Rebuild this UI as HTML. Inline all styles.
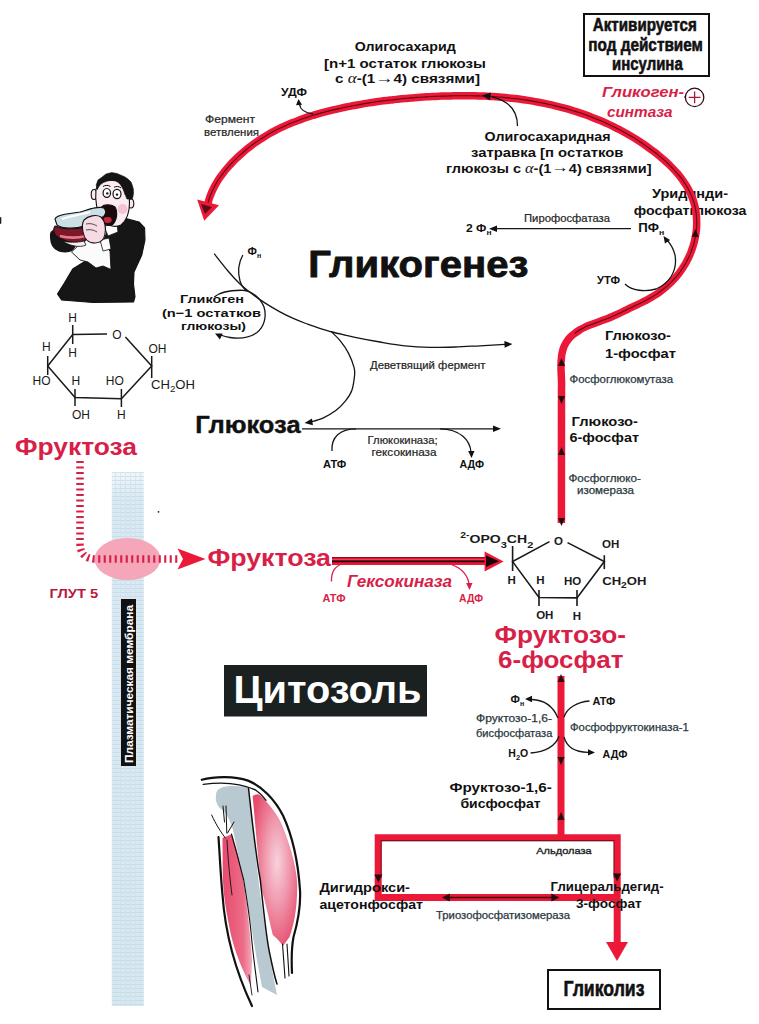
<!DOCTYPE html>
<html><head><meta charset="utf-8"><title>Гликогенез</title>
<style>
html,body{margin:0;padding:0;background:#fff;}
body{width:759px;height:1024px;overflow:hidden;}
svg{display:block;font-family:"Liberation Sans",sans-serif;}
</style></head>
<body>
<svg width="759" height="1024" viewBox="0 0 759 1024">
<defs>
<pattern id="mesh" width="5" height="4" patternUnits="userSpaceOnUse">
<rect width="5" height="1" fill="#bcd4e3"/><rect width="1" height="4" fill="#c9dde9"/>
</pattern>
<linearGradient id="memg" x1="0" y1="472" x2="0" y2="1006" gradientUnits="userSpaceOnUse">
<stop offset="0" stop-color="#f0f7fa"/><stop offset="0.05" stop-color="#dbeaf2"/><stop offset="1" stop-color="#d8e8f1"/>
</linearGradient>
<radialGradient id="mus" cx="0.55" cy="0.45" r="0.6">
<stop offset="0" stop-color="#f8d2dc"/><stop offset="0.45" stop-color="#f09aae"/><stop offset="1" stop-color="#e64d6d"/>
</radialGradient>
<linearGradient id="mus2" x1="0" y1="0" x2="1" y2="0">
<stop offset="0" stop-color="#e84a6c"/><stop offset="0.7" stop-color="#ec6d88"/><stop offset="1" stop-color="#f3a9ba"/>
</linearGradient>
</defs>
<rect width="759" height="1024" fill="#fff"/>
<rect x="111.8" y="472" width="32" height="534" fill="url(#memg)"/>
<rect x="111.8" y="472" width="32" height="534" fill="url(#mesh)" opacity="0.6"/>
<rect x="121" y="599" width="15" height="167" fill="#111"/>
<text transform="translate(132.5,763) rotate(-90)" font-size="10.5" font-weight="bold" fill="#fff" textLength="158" lengthAdjust="spacingAndGlyphs">Плазматическая мембрана</text>
<ellipse cx="127.5" cy="559" rx="33" ry="21" fill="#f5a6b9"/>
<path d="M80,461 L80,543 Q80,559 96,559 L180,559" fill="none" stroke="#d81f48" stroke-width="7.5" stroke-dasharray="2.1 3.4"/>
<polygon points="205.5,559 177.5,548.5 183,559 177.5,569.5" fill="#ec1838"/>
<text x="652" y="197.5" font-size="12.5" font-weight="bold" fill="#111" textLength="76" lengthAdjust="spacingAndGlyphs">Уридинди-</text>
<text x="633.7" y="214.5" font-size="12.5" font-weight="bold" fill="#111" textLength="112.7" lengthAdjust="spacingAndGlyphs">фосфатглюкоза</text>
<path d="M207.8,204.0 C208.1,203.0 208.8,200.1 209.4,198.2 C210.0,196.3 210.8,194.4 211.6,192.5 C212.4,190.6 213.3,188.8 214.2,187.0 C215.1,185.2 216.1,183.4 217.2,181.7 C218.3,180.0 219.4,178.2 220.6,176.6 C221.8,174.9 222.9,173.4 224.2,171.8 C225.4,170.2 226.8,168.6 228.1,167.1 C229.4,165.6 230.8,164.1 232.2,162.6 C233.6,161.1 235.0,159.7 236.5,158.3 C238.0,156.9 239.5,155.5 241.0,154.2 C242.5,152.8 244.0,151.5 245.6,150.2 C247.2,148.9 248.7,147.6 250.3,146.4 C251.9,145.2 253.5,144.0 255.2,142.8 C256.8,141.6 258.5,140.5 260.2,139.4 C261.9,138.3 263.7,137.2 265.4,136.1 C267.1,135.0 268.8,134.0 270.6,133.0 C272.4,132.0 274.2,131.0 276.0,130.1 C277.8,129.2 279.6,128.3 281.4,127.4 C283.2,126.5 285.1,125.7 287.0,124.9 C288.9,124.1 290.7,123.3 292.6,122.6 C294.5,121.8 296.3,121.1 298.2,120.4 C300.1,119.7 302.1,119.0 304.0,118.3 C305.9,117.6 307.8,117.0 309.7,116.4 C311.6,115.8 313.7,115.2 315.6,114.6 C317.6,114.0 319.4,113.4 321.4,112.9 C323.3,112.4 325.3,111.9 327.3,111.4 C329.3,110.9 331.2,110.4 333.2,109.9 C335.2,109.4 337.1,109.0 339.1,108.6 C341.1,108.2 343.1,107.7 345.1,107.3 C347.1,106.9 349.0,106.5 351.0,106.1 C353.0,105.7 355.0,105.4 357.0,105.0 C359.0,104.6 361.0,104.2 363.0,103.9 C365.0,103.6 367.0,103.2 369.0,102.9 C371.0,102.6 373.0,102.3 375.0,102.0 C377.0,101.7 379.0,101.4 381.0,101.1 C383.0,100.8 385.1,100.6 387.1,100.4 C389.1,100.2 391.1,99.9 393.1,99.7 C395.1,99.5 397.2,99.2 399.2,99.0 C401.2,98.8 403.2,98.6 405.2,98.4 C407.2,98.2 409.3,98.1 411.3,97.9 C413.3,97.7 415.4,97.6 417.4,97.4 C419.4,97.2 421.4,97.1 423.4,97.0 C425.4,96.9 427.5,96.8 429.5,96.7 C431.5,96.6 433.6,96.5 435.6,96.4 C437.6,96.3 439.7,96.2 441.7,96.1 C443.7,96.0 445.7,96.0 447.7,96.0 C449.7,96.0 451.8,95.8 453.8,95.8 C455.8,95.8 457.9,95.7 459.9,95.7 C461.9,95.7 464.0,95.7 466.0,95.7 C468.0,95.7 470.1,95.8 472.1,95.8 C474.1,95.8 476.1,95.9 478.1,95.9 C480.1,96.0 482.2,96.0 484.2,96.1 C486.2,96.2 488.3,96.3 490.3,96.4 C492.3,96.5 494.4,96.7 496.4,96.8 C498.4,96.9 500.4,97.1 502.4,97.3 C504.4,97.5 506.5,97.7 508.5,97.9 C510.5,98.1 512.5,98.3 514.5,98.5 C516.5,98.7 518.6,99.0 520.6,99.3 C522.6,99.6 524.6,99.8 526.6,100.1 C528.6,100.4 530.6,100.8 532.6,101.1 C534.6,101.4 536.6,101.8 538.6,102.2 C540.6,102.6 542.6,103.0 544.6,103.4 C546.6,103.8 548.5,104.2 550.5,104.7 C552.5,105.2 554.4,105.6 556.4,106.1 C558.4,106.6 560.3,107.1 562.3,107.6 C564.3,108.1 566.2,108.6 568.2,109.2 C570.2,109.8 572.1,110.4 574.0,111.0 C575.9,111.6 577.9,112.2 579.8,112.8 C581.7,113.4 583.6,114.1 585.5,114.8 C587.4,115.5 589.3,116.2 591.2,116.9 C593.1,117.6 595.0,118.4 596.9,119.2 C598.8,120.0 600.6,120.7 602.5,121.5 C604.4,122.3 606.3,123.1 608.1,124.0 C609.9,124.9 611.7,125.8 613.5,126.7 C615.3,127.6 617.2,128.5 619.0,129.4 C620.8,130.3 622.5,131.3 624.3,132.3 C626.1,133.3 627.9,134.3 629.6,135.3 C631.4,136.3 633.1,137.3 634.8,138.4 C636.5,139.5 638.2,140.6 639.9,141.7 C641.6,142.8 643.3,143.9 645.0,145.1 C646.7,146.3 648.3,147.5 649.9,148.7 C651.5,149.9 653.2,151.1 654.8,152.3 C656.4,153.5 657.9,154.8 659.5,156.1 C661.1,157.4 662.7,158.8 664.2,160.1 C665.7,161.4 667.2,162.8 668.6,164.2 C670.0,165.6 671.5,167.0 672.9,168.5 C674.3,170.0 675.7,171.5 677.0,173.0 C678.3,174.5 679.7,176.1 680.9,177.7 C682.1,179.3 683.3,181.0 684.4,182.7 C685.5,184.4 686.6,186.0 687.6,187.8 C688.6,189.6 689.5,191.5 690.4,193.3 C691.2,195.2 692.0,197.0 692.7,198.9 C693.4,200.8 694.0,202.8 694.5,204.7 C695.0,206.6 695.5,208.6 695.8,210.6 C696.1,212.6 696.4,214.7 696.5,216.7 C696.6,218.7 696.7,220.7 696.7,222.7 C696.7,224.7 696.7,226.8 696.5,228.8 C696.3,230.8 696.0,232.9 695.7,234.9 C695.4,236.9 695.0,238.8 694.5,240.8 C694.0,242.8 693.5,244.8 692.9,246.7 C692.3,248.6 691.6,250.5 690.9,252.4 C690.1,254.3 689.3,256.2 688.4,258.0 C687.5,259.8 686.6,261.6 685.6,263.4 C684.6,265.1 683.5,266.8 682.4,268.5 C681.3,270.2 680.1,271.9 678.9,273.5 C677.7,275.1 676.4,276.7 675.0,278.2 C673.6,279.7 672.2,281.2 670.8,282.6 C669.3,284.0 667.8,285.4 666.3,286.7 C664.8,288.0 663.2,289.3 661.6,290.5 C660.0,291.7 658.4,293.0 656.7,294.1 C655.0,295.2 653.2,296.3 651.5,297.3 C649.8,298.3 648.0,299.4 646.2,300.3 C644.4,301.2 642.6,302.1 640.8,303.0 C639.0,303.9 637.1,304.7 635.3,305.6 C633.5,306.5 631.6,307.3 629.8,308.2 C628.0,309.1 626.1,310.0 624.3,310.9 C622.5,311.8 620.6,312.7 618.8,313.6 C617.0,314.5 615.1,315.3 613.3,316.1 C611.4,316.9 609.6,317.8 607.7,318.5 C605.8,319.2 603.9,319.9 602.0,320.6 C600.1,321.3 598.2,322.0 596.3,322.7 C594.4,323.4 592.5,324.1 590.6,324.8 C588.7,325.5 586.8,326.2 585.0,327.1 C583.2,328.0 581.3,328.9 579.6,330.0 C577.9,331.1 576.2,332.2 574.6,333.4 C573.0,334.6 571.4,335.9 570.0,337.4 C568.6,338.9 567.4,340.5 566.3,342.2 C565.2,343.9 564.3,345.7 563.6,347.6 C562.9,349.5 562.4,351.5 562.0,353.5 C561.6,355.5 561.5,357.5 561.3,359.5 C561.1,361.5 561.0,363.6 561.0,365.6 C561.0,367.6 561.0,369.7 561.1,371.7 C561.2,373.7 561.3,375.8 561.4,377.8 C561.5,379.8 561.6,381.9 561.6,383.9 C561.6,385.9 561.5,388.9 561.5,389.9 L561.4,523" fill="none" stroke="#ec1838" stroke-width="7.5"/>
<path d="M207.8,204.0 C208.1,203.0 208.8,200.1 209.4,198.2 C210.0,196.3 210.8,194.4 211.6,192.5 C212.4,190.6 213.3,188.8 214.2,187.0 C215.1,185.2 216.1,183.4 217.2,181.7 C218.3,180.0 219.4,178.2 220.6,176.6 C221.8,174.9 222.9,173.4 224.2,171.8 C225.4,170.2 226.8,168.6 228.1,167.1 C229.4,165.6 230.8,164.1 232.2,162.6 C233.6,161.1 235.0,159.7 236.5,158.3 C238.0,156.9 239.5,155.5 241.0,154.2 C242.5,152.8 244.0,151.5 245.6,150.2 C247.2,148.9 248.7,147.6 250.3,146.4 C251.9,145.2 253.5,144.0 255.2,142.8 C256.8,141.6 258.5,140.5 260.2,139.4 C261.9,138.3 263.7,137.2 265.4,136.1 C267.1,135.0 268.8,134.0 270.6,133.0 C272.4,132.0 274.2,131.0 276.0,130.1 C277.8,129.2 279.6,128.3 281.4,127.4 C283.2,126.5 285.1,125.7 287.0,124.9 C288.9,124.1 290.7,123.3 292.6,122.6 C294.5,121.8 296.3,121.1 298.2,120.4 C300.1,119.7 302.1,119.0 304.0,118.3 C305.9,117.6 307.8,117.0 309.7,116.4 C311.6,115.8 313.7,115.2 315.6,114.6 C317.6,114.0 319.4,113.4 321.4,112.9 C323.3,112.4 325.3,111.9 327.3,111.4 C329.3,110.9 331.2,110.4 333.2,109.9 C335.2,109.4 337.1,109.0 339.1,108.6 C341.1,108.2 343.1,107.7 345.1,107.3 C347.1,106.9 349.0,106.5 351.0,106.1 C353.0,105.7 355.0,105.4 357.0,105.0 C359.0,104.6 361.0,104.2 363.0,103.9 C365.0,103.6 367.0,103.2 369.0,102.9 C371.0,102.6 373.0,102.3 375.0,102.0 C377.0,101.7 379.0,101.4 381.0,101.1 C383.0,100.8 385.1,100.6 387.1,100.4 C389.1,100.2 391.1,99.9 393.1,99.7 C395.1,99.5 397.2,99.2 399.2,99.0 C401.2,98.8 403.2,98.6 405.2,98.4 C407.2,98.2 409.3,98.1 411.3,97.9 C413.3,97.7 415.4,97.6 417.4,97.4 C419.4,97.2 421.4,97.1 423.4,97.0 C425.4,96.9 427.5,96.8 429.5,96.7 C431.5,96.6 433.6,96.5 435.6,96.4 C437.6,96.3 439.7,96.2 441.7,96.1 C443.7,96.0 445.7,96.0 447.7,96.0 C449.7,96.0 451.8,95.8 453.8,95.8 C455.8,95.8 457.9,95.7 459.9,95.7 C461.9,95.7 464.0,95.7 466.0,95.7 C468.0,95.7 470.1,95.8 472.1,95.8 C474.1,95.8 476.1,95.9 478.1,95.9 C480.1,96.0 482.2,96.0 484.2,96.1 C486.2,96.2 488.3,96.3 490.3,96.4 C492.3,96.5 494.4,96.7 496.4,96.8 C498.4,96.9 500.4,97.1 502.4,97.3 C504.4,97.5 506.5,97.7 508.5,97.9 C510.5,98.1 512.5,98.3 514.5,98.5 C516.5,98.7 518.6,99.0 520.6,99.3 C522.6,99.6 524.6,99.8 526.6,100.1 C528.6,100.4 530.6,100.8 532.6,101.1 C534.6,101.4 536.6,101.8 538.6,102.2 C540.6,102.6 542.6,103.0 544.6,103.4 C546.6,103.8 548.5,104.2 550.5,104.7 C552.5,105.2 554.4,105.6 556.4,106.1 C558.4,106.6 560.3,107.1 562.3,107.6 C564.3,108.1 566.2,108.6 568.2,109.2 C570.2,109.8 572.1,110.4 574.0,111.0 C575.9,111.6 577.9,112.2 579.8,112.8 C581.7,113.4 583.6,114.1 585.5,114.8 C587.4,115.5 589.3,116.2 591.2,116.9 C593.1,117.6 595.0,118.4 596.9,119.2 C598.8,120.0 600.6,120.7 602.5,121.5 C604.4,122.3 606.3,123.1 608.1,124.0 C609.9,124.9 611.7,125.8 613.5,126.7 C615.3,127.6 617.2,128.5 619.0,129.4 C620.8,130.3 622.5,131.3 624.3,132.3 C626.1,133.3 627.9,134.3 629.6,135.3 C631.4,136.3 633.1,137.3 634.8,138.4 C636.5,139.5 638.2,140.6 639.9,141.7 C641.6,142.8 643.3,143.9 645.0,145.1 C646.7,146.3 648.3,147.5 649.9,148.7 C651.5,149.9 653.2,151.1 654.8,152.3 C656.4,153.5 657.9,154.8 659.5,156.1 C661.1,157.4 662.7,158.8 664.2,160.1 C665.7,161.4 667.2,162.8 668.6,164.2 C670.0,165.6 671.5,167.0 672.9,168.5 C674.3,170.0 675.7,171.5 677.0,173.0 C678.3,174.5 679.7,176.1 680.9,177.7 C682.1,179.3 683.3,181.0 684.4,182.7 C685.5,184.4 686.6,186.0 687.6,187.8 C688.6,189.6 689.5,191.5 690.4,193.3 C691.2,195.2 692.0,197.0 692.7,198.9 C693.4,200.8 694.0,202.8 694.5,204.7 C695.0,206.6 695.5,208.6 695.8,210.6 C696.1,212.6 696.4,214.7 696.5,216.7 C696.6,218.7 696.7,220.7 696.7,222.7 C696.7,224.7 696.7,226.8 696.5,228.8 C696.3,230.8 696.0,232.9 695.7,234.9 C695.4,236.9 695.0,238.8 694.5,240.8 C694.0,242.8 693.5,244.8 692.9,246.7 C692.3,248.6 691.6,250.5 690.9,252.4 C690.1,254.3 689.3,256.2 688.4,258.0 C687.5,259.8 686.6,261.6 685.6,263.4 C684.6,265.1 683.5,266.8 682.4,268.5 C681.3,270.2 680.1,271.9 678.9,273.5 C677.7,275.1 676.4,276.7 675.0,278.2 C673.6,279.7 672.2,281.2 670.8,282.6 C669.3,284.0 667.8,285.4 666.3,286.7 C664.8,288.0 663.2,289.3 661.6,290.5 C660.0,291.7 658.4,293.0 656.7,294.1 C655.0,295.2 653.2,296.3 651.5,297.3 C649.8,298.3 648.0,299.4 646.2,300.3 C644.4,301.2 642.6,302.1 640.8,303.0 C639.0,303.9 637.1,304.7 635.3,305.6 C633.5,306.5 631.6,307.3 629.8,308.2 C628.0,309.1 626.1,310.0 624.3,310.9 C622.5,311.8 620.6,312.7 618.8,313.6 C617.0,314.5 615.1,315.3 613.3,316.1 C611.4,316.9 609.6,317.8 607.7,318.5 C605.8,319.2 603.9,319.9 602.0,320.6 C600.1,321.3 598.2,322.0 596.3,322.7 C594.4,323.4 592.5,324.1 590.6,324.8 C588.7,325.5 586.8,326.2 585.0,327.1 C583.2,328.0 581.3,328.9 579.6,330.0 C577.9,331.1 575.4,332.8 574.6,333.4" fill="none" stroke="#3a0810" stroke-width="1.1" opacity="0.8"/>
<polygon points="204.2,220.8 197.2,199.6 219,205.2" fill="#ec1838"/>
<polygon points="205,214 201,204 212,207" fill="#5a0d18"/>
<polygon points="695.5,229.0 698.7,237.1 691.7,236.9" fill="#2a0a10"/>
<polygon points="561.5,358.0 565.0,366.0 558.0,366.0" fill="#2a0a10"/>
<polygon points="561.5,404.0 558.0,396.0 565.0,396.0" fill="#2a0a10"/>
<polygon points="561.5,447.0 565.0,455.0 558.0,455.0" fill="#2a0a10"/>
<polygon points="561.5,526.0 558.0,518.0 565.0,518.0" fill="#2a0a10"/>
<path d="M561,676 L561,838 M374.7,837.75 L620.6,837.75 M378.2,834.5 L378.2,900.6 M374.7,897.5 L617,897.5 M617.2,834.5 L617.2,944" fill="none" stroke="#ec1838" stroke-width="7"/>
<path d="M381.2,878 L381.2,840.6 L613.9,840.6 L613.9,878" fill="none" stroke="#3a0810" stroke-width="1.1" opacity="0.6"/>
<path d="M445,897.5 L556,897.5" fill="none" stroke="#2a0508" stroke-width="1.4" opacity="0.9"/>
<polygon points="561.0,674.0 564.5,682.0 557.5,682.0" fill="#2a0a10"/>
<polygon points="561.0,765.0 557.5,757.0 564.5,757.0" fill="#2a0a10"/>
<polygon points="561.0,812.0 564.5,820.0 557.5,820.0" fill="#2a0a10"/>
<polygon points="378.3,882.5 374.3,874.5 382.3,874.5" fill="#2a0a10"/>
<polygon points="617.1,881.5 613.1,873.5 621.1,873.5" fill="#2a0a10"/>
<polygon points="441.9,897.5 449.9,893.5 449.9,901.5" fill="#2a0a10"/>
<polygon points="559.4,897.5 551.4,901.5 551.4,893.5" fill="#2a0a10"/>
<polygon points="617,961 606,942 628,942" fill="#ec1838"/>
<rect x="332" y="557" width="154" height="8" fill="#ec1838"/>
<line x1="332" y1="557.6" x2="486" y2="557.6" stroke="#8a0c1e" stroke-width="1"/>
<line x1="332" y1="559.4" x2="486" y2="559.4" stroke="#ff5a78" stroke-width="0.8" opacity="0.8"/>
<line x1="332" y1="561.3" x2="492" y2="561.3" stroke="#1a0508" stroke-width="1.7"/>
<polygon points="503.6,561.5 484.6,551.5 484.6,571.5" fill="#ec1838"/>
<polygon points="499,561.3 486,555.5 486,567" fill="#1a0508"/>
<path d="M214.2,253.7 C216.5,256.6 223.7,265.9 228.0,271.0 C232.3,276.1 235.8,280.0 240.0,284.0 C244.2,288.0 248.8,291.5 253.2,294.8 C257.6,298.1 262.0,301.1 266.4,303.9 C270.8,306.7 275.1,309.2 279.5,311.6 C283.9,314.0 288.3,316.2 292.7,318.2 C297.1,320.2 301.5,321.9 305.9,323.5 C310.3,325.1 314.6,326.7 319.0,328.1 C323.4,329.5 327.9,330.9 332.2,332.0 C336.4,333.1 340.7,334.1 344.5,335.0 C348.3,335.9 349.1,336.1 355.0,337.3 C360.9,338.5 371.7,340.6 380.0,342.0 C388.3,343.4 396.7,344.9 405.0,345.8 C413.3,346.7 421.7,347.2 430.0,347.4 C438.3,347.6 446.7,347.3 455.0,347.0 C463.3,346.7 471.7,346.2 480.0,345.8 C488.3,345.4 500.8,344.6 505.0,344.3" fill="none" stroke="#151515" stroke-width="1.3"/>
<polygon points="512.5,344.0 504.7,347.7 504.3,341.1" fill="#111"/>
<path d="M242.8,255 C239,262 237.5,272 240,281 C241.5,286 244,289 247,291" fill="none" stroke="#151515" stroke-width="1.3"/>
<path d="M214.3,297 C220,292 230,290 243,290.3 C253,291 261,299 264,307 C267,317 264,327 257,332.5 C250,337.5 240,339 230,337.5 C226,337 223,336 220.5,335" fill="none" stroke="#151515" stroke-width="1.3"/>
<polygon points="215.0,333.5 222.7,333.5 219.9,339.4" fill="#111"/>
<path d="M331.0,331.4 C332.5,332.9 337.2,337.0 340.1,340.7 C343.1,344.4 346.4,349.1 348.7,353.6 C351.0,358.1 353.1,364.0 354.1,367.6 C355.1,371.2 355.0,371.3 354.6,375.1 C354.2,378.9 353.4,385.9 351.9,390.2 C350.4,394.5 348.2,397.5 345.5,400.9 C342.8,404.3 339.6,407.7 335.8,410.6 C332.0,413.5 327.0,416.2 322.9,418.1 C318.8,420.0 313.0,421.3 311.0,421.9" fill="none" stroke="#151515" stroke-width="1.3"/>
<polygon points="304.5,423.0 312.0,418.6 312.9,425.2" fill="#111"/>
<line x1="302" y1="428.8" x2="493" y2="428.8" stroke="#151515" stroke-width="1.3"/>
<polygon points="501.0,428.8 493.0,432.0 493.0,425.6" fill="#111"/>
<path d="M332,451 C331,437 340,428.8 356,428.8" fill="none" stroke="#151515" stroke-width="1.3"/>
<path d="M440,428.8 C460,429 470,440 471,452" fill="none" stroke="#151515" stroke-width="1.3"/>
<polygon points="471.5,458.0 468.1,451.1 474.5,450.9" fill="#111"/>
<line x1="631" y1="228.7" x2="496" y2="228.7" stroke="#151515" stroke-width="1.3"/>
<polygon points="489.0,228.7 497.0,225.5 497.0,231.9" fill="#111"/>
<path d="M625,284 C632,291 645,292 656,289 C668,284 678,272 675,255 C673,247 670,243 666,239" fill="none" stroke="#151515" stroke-width="1.3"/>
<polygon points="663.5,236.0 670.1,239.9 664.9,243.6" fill="#111"/>
<path d="M313,114 C305,113 300,109 299.5,104" fill="none" stroke="#151515" stroke-width="1.3"/>
<polygon points="298.5,99.0 302.0,104.7 296.0,105.2" fill="#111"/>
<path d="M517.5,126 C517.5,112 510,101 492,96.8" fill="none" stroke="#151515" stroke-width="1.3"/>
<polygon points="482.0,95.5 490.9,92.6 490.1,100.2" fill="#111"/>
<path d="M331.5,581.5 C331,572 335,566 343,563.5" fill="none" stroke="#d81f48" stroke-width="1.3"/>
<path d="M452,565 C462,568 468,576 469,584" fill="none" stroke="#d81f48" stroke-width="1.3"/>
<polygon points="469.5,590.0 466.1,583.1 472.5,582.9" fill="#d81f48"/>
<path d="M558,718 C553,706 545,700 532,699.5" fill="none" stroke="#151515" stroke-width="1.3"/>
<polygon points="525.0,699.0 532.0,695.8 532.0,702.2" fill="#111"/>
<path d="M589.5,701 C577,702 567,708 564,717" fill="none" stroke="#151515" stroke-width="1.3"/>
<path d="M530.6,753 C545,752 556,746 559,736" fill="none" stroke="#151515" stroke-width="1.3"/>
<path d="M564,737 C567,748 575,752 588,752.4" fill="none" stroke="#151515" stroke-width="1.3"/>
<polygon points="595.0,752.4 588.0,755.6 588.0,749.2" fill="#111"/>
<rect x="584" y="14" width="125" height="62" fill="#fff" stroke="#111" stroke-width="2"/>
<rect x="548" y="970" width="112" height="39" fill="#fff" stroke="#111" stroke-width="2"/>
<rect x="224" y="665" width="203" height="51.5" fill="#1b2020"/>
<circle cx="694.6" cy="97.4" r="9.2" fill="none" stroke="#3a0a14" stroke-width="1.3"/>
<path d="M694.6,91.5 L694.6,103.3 M688.7,97.4 L700.5,97.4" stroke="#a8163a" stroke-width="1.3"/>
<line x1="684" y1="97" x2="686" y2="97" stroke="#3a0a14" stroke-width="1.2"/>
<path d="M107,334 L72.7,334.5 L47.7,366 L75,397.5 L121.4,398.8 L151.7,366 L125.4,337" fill="none" stroke="#1a1a1a" stroke-width="1.5"/>
<path d="M72.7,325 L72.7,344 M47.7,356 L47.7,375 M75,389 L75,406 M121.4,389 L121.4,407 M151.7,356 L151.7,378" fill="none" stroke="#1a1a1a" stroke-width="1.5"/>
<text x="72.7" y="322.4" font-size="12" fill="#1a1a1a" text-anchor="middle">H</text>
<text x="72.7" y="357.4" font-size="12" fill="#1a1a1a" text-anchor="middle">H</text>
<text x="117" y="339" font-size="12" fill="#1a1a1a" text-anchor="middle">O</text>
<text x="46.3" y="351.4" font-size="12" fill="#1a1a1a" text-anchor="middle">H</text>
<text x="41.5" y="384.8" font-size="12" fill="#1a1a1a" text-anchor="middle">HO</text>
<text x="75.9" y="384.8" font-size="12" fill="#1a1a1a" text-anchor="middle">H</text>
<text x="114.8" y="384.8" font-size="12" fill="#1a1a1a" text-anchor="middle">HO</text>
<text x="157.4" y="352.7" font-size="12" fill="#1a1a1a" text-anchor="middle">OH</text>
<text x="81" y="418.6" font-size="12" fill="#1a1a1a" text-anchor="middle">OH</text>
<text x="121.4" y="418.6" font-size="12" fill="#1a1a1a" text-anchor="middle">H</text>
<text x="151" y="388.8" font-size="12" fill="#1a1a1a" textLength="44" lengthAdjust="spacingAndGlyphs">CH<tspan font-size="9" dy="3.5">2</tspan><tspan dy="-3.5">OH</tspan></text>
<path d="M549.5,541.6 L512.6,561.6 L539,597.5 L577,597.9 L604.3,561.6 L567.5,542.6" fill="none" stroke="#1a1a1a" stroke-width="1.6"/>
<path d="M512.6,546 L512.6,571 M539,590 L539,606 M577,590 L577,606 M604.3,555.3 L604.3,569" fill="none" stroke="#1a1a1a" stroke-width="1.6"/>
<text x="558.5" y="544.8" font-size="11.5" font-weight="bold" fill="#1a1a1a" text-anchor="middle">O</text>
<text x="511.6" y="583.8" font-size="11.5" font-weight="bold" fill="#1a1a1a" text-anchor="middle">H</text>
<text x="540.5" y="583.8" font-size="11.5" font-weight="bold" fill="#1a1a1a" text-anchor="middle">H</text>
<text x="572.7" y="585.2" font-size="11.5" font-weight="bold" fill="#1a1a1a" text-anchor="middle">HO</text>
<text x="610.7" y="547.9" font-size="11.5" font-weight="bold" fill="#1a1a1a" text-anchor="middle">OH</text>
<text x="544.8" y="618.5" font-size="11.5" font-weight="bold" fill="#1a1a1a" text-anchor="middle">OH</text>
<text x="577" y="619.6" font-size="11.5" font-weight="bold" fill="#1a1a1a" text-anchor="middle">H</text>
<text x="602.2" y="584.8" font-size="11.5" font-weight="bold" fill="#1a1a1a" textLength="44.3" lengthAdjust="spacingAndGlyphs">CH<tspan font-size="9" dy="3.5">2</tspan><tspan dy="-3.5">OH</tspan></text>
<text x="460.3" y="542.8" font-size="11.5" font-weight="bold" fill="#1a1a1a" textLength="73" lengthAdjust="spacingAndGlyphs"><tspan font-size="8.5" dy="-5">2-</tspan><tspan dy="5">OPO</tspan><tspan font-size="9" dy="5">3</tspan><tspan dy="-5">CH</tspan><tspan font-size="9" dy="5">2</tspan></text>
<text x="592.8" y="31.4" font-size="18.7" font-weight="bold" fill="#111" textLength="104" lengthAdjust="spacingAndGlyphs" stroke="#111" stroke-width="0.6" stroke-linejoin="round">Активируется</text>
<text x="588.3" y="50.9" font-size="18.7" font-weight="bold" fill="#111" textLength="114.6" lengthAdjust="spacingAndGlyphs" stroke="#111" stroke-width="0.6" stroke-linejoin="round">под действием</text>
<text x="612" y="69.6" font-size="18.7" font-weight="bold" fill="#111" textLength="70.7" lengthAdjust="spacingAndGlyphs" stroke="#111" stroke-width="0.6" stroke-linejoin="round">инсулина</text>
<text x="602" y="96.6" font-size="14" font-weight="bold" font-style="italic" fill="#d81f48" textLength="82" lengthAdjust="spacingAndGlyphs">Гликоген-</text>
<text x="607" y="117.2" font-size="15.5" font-weight="bold" font-style="italic" fill="#d81f48" textLength="65.5" lengthAdjust="spacingAndGlyphs">синтаза</text>
<text x="354.7" y="51" font-size="12.5" font-weight="bold" fill="#111" textLength="101" lengthAdjust="spacingAndGlyphs">Олигосахарид</text>
<text x="324" y="67.5" font-size="12.5" font-weight="bold" fill="#111" textLength="162" lengthAdjust="spacingAndGlyphs">[n+1 остаток глюкозы</text>
<text x="335" y="83.3" font-size="12.5" font-weight="bold" fill="#111" textLength="145" lengthAdjust="spacingAndGlyphs">с  <tspan font-family="Liberation Serif" font-style="italic" font-weight="normal" font-size="14">α</tspan>-(1<tspan font-size="15" font-weight="normal" dy="-0.8">→</tspan><tspan dy="0.8">4)</tspan> связями]</text>
<text x="281" y="96" font-size="10.5" font-weight="bold" fill="#111" textLength="26" lengthAdjust="spacingAndGlyphs">УДФ</text>
<text x="205" y="123" font-size="10" font-weight="normal" fill="#262626" textLength="50" lengthAdjust="spacingAndGlyphs" stroke="#262626" stroke-width="0.2" stroke-linejoin="round">Фермент</text>
<text x="204" y="136" font-size="10" font-weight="normal" fill="#262626" textLength="55" lengthAdjust="spacingAndGlyphs" stroke="#262626" stroke-width="0.2" stroke-linejoin="round">ветвления</text>
<text x="484.5" y="140.6" font-size="12.5" font-weight="bold" fill="#111" textLength="126" lengthAdjust="spacingAndGlyphs">Олигосахаридная</text>
<text x="471" y="156.9" font-size="12.5" font-weight="bold" fill="#111" textLength="152.5" lengthAdjust="spacingAndGlyphs">затравка [п остатков</text>
<text x="446" y="172.8" font-size="12.5" font-weight="bold" fill="#111" textLength="205.5" lengthAdjust="spacingAndGlyphs">глюкозы с <tspan font-family="Liberation Serif" font-style="italic" font-weight="normal" font-size="14">α</tspan>-(1<tspan font-size="15" font-weight="normal" dy="-0.8">→</tspan><tspan dy="0.8">4)</tspan> связями]</text>
<text x="524" y="222" font-size="10" font-weight="normal" fill="#262626" textLength="86" lengthAdjust="spacingAndGlyphs" stroke="#262626" stroke-width="0.2" stroke-linejoin="round">Пирофосфатаза</text>
<text x="466" y="232" font-size="11.5" font-weight="bold" fill="#111" textLength="25.5" lengthAdjust="spacingAndGlyphs">2 Ф<tspan font-size="8" dy="3">н</tspan></text>
<text x="638.3" y="232" font-size="12" font-weight="bold" fill="#111" textLength="26" lengthAdjust="spacingAndGlyphs">ПФ<tspan font-size="8" dy="3">н</tspan></text>
<text x="247.5" y="255" font-size="11" font-weight="bold" fill="#111">Ф<tspan font-size="7" dy="3">н</tspan></text>
<text x="308.3" y="277" font-size="36" font-weight="bold" fill="#111" textLength="220" lengthAdjust="spacingAndGlyphs" stroke="#111" stroke-width="0.8" stroke-linejoin="round">Гликогенез</text>
<text x="597" y="284" font-size="10.5" font-weight="bold" fill="#111" textLength="23" lengthAdjust="spacingAndGlyphs">УТФ</text>
<text x="180" y="302.5" font-size="11.5" font-weight="bold" fill="#111" textLength="64" lengthAdjust="spacingAndGlyphs">Гликоген</text>
<text x="162" y="317" font-size="11.5" font-weight="bold" fill="#111" textLength="99" lengthAdjust="spacingAndGlyphs">(n−1 остатков</text>
<text x="181" y="330" font-size="11.5" font-weight="bold" fill="#111" textLength="65" lengthAdjust="spacingAndGlyphs">глюкозы)</text>
<text x="605" y="340" font-size="12.5" font-weight="bold" fill="#111" textLength="66" lengthAdjust="spacingAndGlyphs">Глюкозо-</text>
<text x="605" y="357.6" font-size="12.5" font-weight="bold" fill="#111" textLength="71" lengthAdjust="spacingAndGlyphs">1-фосфат</text>
<text x="370" y="369" font-size="10" font-weight="normal" fill="#262626" textLength="115.5" lengthAdjust="spacingAndGlyphs" stroke="#262626" stroke-width="0.2" stroke-linejoin="round">Деветвящий фермент</text>
<text x="569.5" y="383" font-size="10" font-weight="normal" fill="#2b3a42" textLength="103.5" lengthAdjust="spacingAndGlyphs" stroke="#2b3a42" stroke-width="0.25" stroke-linejoin="round">Фосфоглюкомутаза</text>
<text x="195.3" y="432.5" font-size="24" font-weight="bold" fill="#111" textLength="105.3" lengthAdjust="spacingAndGlyphs" stroke="#111" stroke-width="0.4" stroke-linejoin="round">Глюкоза</text>
<text x="571.6" y="426" font-size="12.5" font-weight="bold" fill="#111" textLength="66.4" lengthAdjust="spacingAndGlyphs">Глюкозо-</text>
<text x="569.5" y="441.8" font-size="12.5" font-weight="bold" fill="#111" textLength="69.5" lengthAdjust="spacingAndGlyphs">6-фосфат</text>
<text x="367.6" y="443.8" font-size="10.3" font-weight="normal" fill="#262626" textLength="70" lengthAdjust="spacingAndGlyphs" stroke="#262626" stroke-width="0.2" stroke-linejoin="round">Глюкокиназа;</text>
<text x="371.5" y="456.3" font-size="10.3" font-weight="normal" fill="#262626" textLength="65" lengthAdjust="spacingAndGlyphs" stroke="#262626" stroke-width="0.2" stroke-linejoin="round">гексокиназа</text>
<text x="323" y="467.5" font-size="10" font-weight="bold" fill="#111" textLength="23.4" lengthAdjust="spacingAndGlyphs">АТФ</text>
<text x="459.4" y="467.5" font-size="10" font-weight="bold" fill="#111" textLength="24.6" lengthAdjust="spacingAndGlyphs">АДФ</text>
<text x="568.5" y="481.7" font-size="10" font-weight="normal" fill="#2b3a42" textLength="72.5" lengthAdjust="spacingAndGlyphs" stroke="#2b3a42" stroke-width="0.25" stroke-linejoin="round">Фосфоглюко-</text>
<text x="577" y="494" font-size="10" font-weight="normal" fill="#2b3a42" textLength="57" lengthAdjust="spacingAndGlyphs" stroke="#2b3a42" stroke-width="0.25" stroke-linejoin="round">изомераза</text>
<text x="15" y="455" font-size="23" font-weight="bold" fill="#d81f48" textLength="122" lengthAdjust="spacingAndGlyphs">Фруктоза</text>
<text x="207.4" y="565.7" font-size="24.5" font-weight="bold" fill="#d81f48" textLength="123.6" lengthAdjust="spacingAndGlyphs">Фруктоза</text>
<text x="347" y="587" font-size="16.5" font-weight="bold" font-style="italic" fill="#d81f48" textLength="105" lengthAdjust="spacingAndGlyphs">Гексокиназа</text>
<text x="49.5" y="597.5" font-size="12.8" font-weight="bold" fill="#b8193f" textLength="48.7" lengthAdjust="spacingAndGlyphs">ГЛУТ 5</text>
<text x="322.5" y="602.4" font-size="10.5" font-weight="bold" fill="#d81f48" textLength="23" lengthAdjust="spacingAndGlyphs">АТФ</text>
<text x="459" y="602.4" font-size="10.5" font-weight="bold" fill="#d81f48" textLength="24" lengthAdjust="spacingAndGlyphs">АДФ</text>
<text x="494.5" y="643" font-size="24" font-weight="bold" fill="#d81f48" textLength="131.5" lengthAdjust="spacingAndGlyphs">Фруктозо-</text>
<text x="498" y="668.2" font-size="24" font-weight="bold" fill="#d81f48" textLength="125.6" lengthAdjust="spacingAndGlyphs">6-фосфат</text>
<text x="233.5" y="703" font-size="38.5" font-weight="bold" fill="#fff" textLength="188" lengthAdjust="spacingAndGlyphs">Цитозоль</text>
<text x="510.5" y="703" font-size="11" font-weight="bold" fill="#111">Ф<tspan font-size="7" dy="3">н</tspan></text>
<text x="592.4" y="704.6" font-size="10.5" font-weight="bold" fill="#111" textLength="23" lengthAdjust="spacingAndGlyphs">АТФ</text>
<text x="476" y="721.5" font-size="10" font-weight="normal" fill="#2b3a42" textLength="76" lengthAdjust="spacingAndGlyphs" stroke="#2b3a42" stroke-width="0.25" stroke-linejoin="round">Фруктозо-1,6-</text>
<text x="476" y="737" font-size="10" font-weight="normal" fill="#2b3a42" textLength="76.4" lengthAdjust="spacingAndGlyphs" stroke="#2b3a42" stroke-width="0.25" stroke-linejoin="round">бисфосфатаза</text>
<text x="570" y="730.6" font-size="10" font-weight="normal" fill="#2b3a42" textLength="118.8" lengthAdjust="spacingAndGlyphs" stroke="#2b3a42" stroke-width="0.25" stroke-linejoin="round">Фосфофруктокиназа-1</text>
<text x="508.3" y="757" font-size="10.5" font-weight="bold" fill="#111">H<tspan font-size="7.5" dy="2.5">2</tspan><tspan dy="-2.5">O</tspan></text>
<text x="602.5" y="758.4" font-size="10.8" font-weight="bold" fill="#111" textLength="24.8" lengthAdjust="spacingAndGlyphs">АДФ</text>
<text x="449.4" y="791.5" font-size="12.5" font-weight="bold" fill="#111" textLength="102.4" lengthAdjust="spacingAndGlyphs">Фруктозо-1,6-</text>
<text x="460.4" y="807.8" font-size="12.5" font-weight="bold" fill="#111" textLength="80.3" lengthAdjust="spacingAndGlyphs">бисфосфат</text>
<text x="536.2" y="854.2" font-size="9.8" font-weight="normal" fill="#1e1e1e" textLength="55.5" lengthAdjust="spacingAndGlyphs" stroke="#1e1e1e" stroke-width="0.35" stroke-linejoin="round">Альдолаза</text>
<text x="319.4" y="892" font-size="12.5" font-weight="bold" fill="#111" textLength="90.6" lengthAdjust="spacingAndGlyphs">Дигидрокси-</text>
<text x="319.4" y="909" font-size="12.5" font-weight="bold" fill="#111" textLength="103.6" lengthAdjust="spacingAndGlyphs">ацетонфосфат</text>
<text x="550.6" y="891" font-size="12.5" font-weight="bold" fill="#111" textLength="113" lengthAdjust="spacingAndGlyphs">Глицеральдегид-</text>
<text x="576" y="908" font-size="12.5" font-weight="bold" fill="#111" textLength="65.6" lengthAdjust="spacingAndGlyphs">3-фосфат</text>
<text x="436" y="919.3" font-size="10" font-weight="normal" fill="#2b3a42" textLength="134" lengthAdjust="spacingAndGlyphs" stroke="#2b3a42" stroke-width="0.25" stroke-linejoin="round">Триозофосфатизомераза</text>
<text x="563.5" y="996" font-size="22" font-weight="bold" fill="#111" textLength="81" lengthAdjust="spacingAndGlyphs" stroke="#111" stroke-width="0.6" stroke-linejoin="round">Гликолиз</text>

<g stroke="#111" stroke-width="1.1" stroke-linejoin="round">
 <path d="M111,222 L126,218.5 L139,222 L144.6,228 L145,240 L141.8,255 L134,272 L133.5,284 L135,296.8 L133.5,302 L93,302.5 L61.6,300 L57.5,294 L64.4,283 L72.7,269 L84,262 L100,252 L104,240 Z" fill="#161616"/>
 <path d="M50.5,236 C50,230 56,229 62,230 C70,232 76,238 75,246 C73,252 66,253 59,251 C53,249 50.5,243 50.5,236 Z" fill="#161616"/>
 <path d="M71.5,252 L80,244 L88,236 L100,241 L110,251 L111,269.5 L103,266 L96,268 L88,262 L80,260 Z" fill="#fbfbfb" stroke-width="0.9"/>
 <path d="M104,226 L117,224 L118,232 L108,236 Z" fill="#fbfbfb" stroke-width="0.8"/>
 <path d="M100,240 L109,238 L111,249 L103,251 Z" fill="#fbfbfb" stroke-width="0.8"/>
 <ellipse cx="94" cy="194.5" rx="2.8" ry="5" fill="#f9e9ef"/>
 <ellipse cx="131" cy="203.5" rx="2.8" ry="4.5" fill="#f9e9ef"/>
 <path d="M96,189 C95,200 97,212 102,219 C107,226 115,228 121,225 C127,220 129.5,212 129.5,203 C129.5,195 128,188 124,184 C118,179 104,179 99,184 Z" fill="#fbecf1"/>
 <ellipse cx="122.5" cy="209" rx="5" ry="5" fill="#f2c3d3" stroke="none"/>
 <polygon points="97.2,189.7 96.2,185 98,180 101.9,177.2 106,174 111.7,172.6 117,173.5 121,175.2 125,177 128.2,179.2 131,182 132.2,185.1 133.3,189 133.5,193 133,196.5 132.2,199 126.9,199 125.6,195.5 124.9,194.4 123.8,191 122.3,187.8 120.5,184.8 118.3,182.5 115.8,181 113,180.5 109.5,180.6 106.5,181.2 103.3,182.6 100.5,184.5 98.6,187" fill="#141414" stroke-width="0.6"/>
 <ellipse cx="106.8" cy="192.9" rx="3.7" ry="4.4" fill="#fff" stroke-width="1.2"/>
 <ellipse cx="117" cy="194" rx="4" ry="4.6" fill="#fff" stroke-width="1.2"/>
 <circle cx="107.3" cy="193.4" r="1.2" fill="#111" stroke="none"/>
 <circle cx="117" cy="194.6" r="1.2" fill="#111" stroke="none"/>
 <path d="M103,186.5 C105,185 108.5,185 110.5,186.5 M114,187.3 C116,186 119.5,186.3 121,188" fill="none" stroke-width="1"/>
 <path d="M101.5,207 C104,204 111,204 115,207 C118,212 117,221 112,225 C107,227 102,223 101,217 Z" fill="#1c0a0c"/>
 <ellipse cx="107.5" cy="220" rx="4.2" ry="3" fill="#c42a3c" stroke="none"/>
 <path d="M55,219 C57,214 70,214 80,212 C90,209 98,206 104,208 C107,211 106,216 101,218 C95,220 90,221 84,226 C76,229 62,229 57,225 Z" fill="#cddfe6"/>
 <path d="M62,219 C70,216 80,215 90,212" fill="none" stroke="#fff" stroke-width="2"/>
 <path d="M55,226 C62,229 75,230 84,227 C88,232 88,238 84,242 C76,244 64,242 56,236 C53,232 53,229 55,226 Z" fill="#7e1828"/>
 <path d="M60,236 C68,238 78,238 86,236" fill="none" stroke="#e27d90" stroke-width="2.5"/>
 <path d="M63,241.5 C70,246 80,248 86,245 L84,241 C76,243 68,242 63,241.5 Z" fill="#f4eef2" stroke-width="0.8"/>
 <path d="M84,220 C88,216 96,214 101,217 C105,221 106,228 105,234 C104,240 100,243 95,243 C88,243 84,238 83,232 C82,227 82,223 84,220 Z" fill="#f6dbe4"/>
 <path d="M86,224 C90,223 94,224 97,226 M86,230 C90,229 94,230 97,232" fill="none" stroke-width="0.7"/>
</g>

<g>
 <path d="M252.6,796 C256,794 258,794 260,795 C270,805 278,815 282,825 C290,845 295,862 297,880 C298,905 294,925 289.5,937 L283,946 C279,940 275,937 272.8,935 C268,915 265,900 261.7,890 C258,860 255,820 252.6,796 Z" fill="url(#mus)"/>
 <path d="M222.5,838 L232,834 C238,852 242,870 245,890 C248,915 251,940 252,960 L251,986 C243,972 235,952 231,935 C226,912 223,892 222.8,875 Z" fill="url(#mus2)"/>
 <path d="M216,795 C216,787 225,786 235,786 L248,787 C250,800 252,820 254,840 L259,885 L266,935 C270,960 274,980 277,995 L262,987 C258,965 255,950 252.7,935 L244.5,885 L233,830 C230,820 226,812 221,809 C217,806 215,800 216,795 Z" fill="#b9c9d1"/>
 <g fill="none" stroke="#111" stroke-linecap="round">
  <path d="M201.8,779.8 C215,776 235,776 248,780.6 C262,786 275,800 283,815.5 C292,835 298,860 300,890 C301,908 297,925 293.5,937 C291,950 291.5,962 292,973" stroke-width="2.2"/>
  <path d="M203.3,784.4 C220,782 240,783 255.6,790 C260,793 263,796 266,800.3" stroke-width="1.4"/>
  <path d="M218.5,837 C220,860 221,880 222.5,895 C225,930 235,970 252,1006" stroke-width="2.2"/>
  <path d="M248.5,788 C251,810 255,850 260.3,880 C263,905 266,935 269,950 C272,965 275,978 277,984" stroke-width="1.5"/>
  <path d="M231.4,834 C236,850 240,865 243.7,880 C247,900 250,920 251.3,935 C253,955 256,975 258,992" stroke-width="1.1"/>
  <path d="M282.5,944 L285,978 M287,944 L289,976" stroke-width="1.1"/>
  <path d="M227,840 C228,860 230,880 232,895 M249,975 L252,995" stroke-width="0.9"/>
  <path d="M211.7,815 C216,825 221,832 225.3,838 M223,806 L224.5,822 M226,806 L226.8,833 M234,822 L227.6,833" stroke-width="1"/>
 </g>
</g>
<circle cx="158.5" cy="511.8" r="0.9" fill="#222"/>
<path d="M0,217 L1.3,217.6 L1.3,223.4 L0,224 Z" fill="#1a1a1a"/>
</svg>
</body></html>
